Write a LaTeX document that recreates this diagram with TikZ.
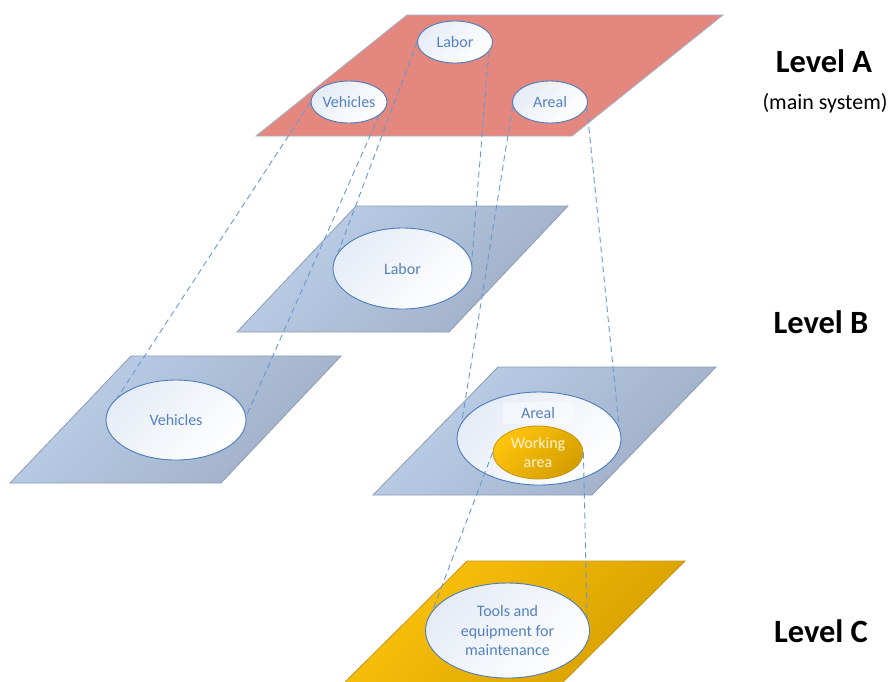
\documentclass[tikz,border=0pt]{standalone}
\usepackage{fontspec}
\setmainfont{Carlito}
\usetikzlibrary{shapes.geometric}

\definecolor{salmon}{RGB}{228,135,127}
\definecolor{salmonEdge}{RGB}{160,176,200}
\definecolor{blueLight}{RGB}{189,208,233}
\definecolor{blueDark}{RGB}{158,174,198}
\definecolor{blueEdge}{RGB}{140,156,182}
\definecolor{goldLight}{RGB}{255,196,12}
\definecolor{goldDark}{RGB}{212,158,0}
\definecolor{goldEdge}{RGB}{196,150,20}
\definecolor{ovalEdge}{RGB}{72,124,188}
\definecolor{ovalTop}{RGB}{230,236,246}
\definecolor{ovalText}{RGB}{84,130,192}
\definecolor{dashBlue}{RGB}{96,155,214}
\definecolor{cream}{RGB}{255,244,210}

\begin{document}
\begin{tikzpicture}[x=1pt,y=1pt,
  planeA/.style={fill=salmon, draw=salmonEdge, line width=0.8pt},
  planeB/.style={top color=blueLight, bottom color=blueDark, shading angle=45,
                 draw=blueEdge, line width=0.8pt},
  planeC/.style={top color=goldLight, bottom color=goldDark, shading angle=45,
                 draw=goldEdge, line width=0.8pt},
  oval/.style={ellipse, draw=ovalEdge, line width=0.9pt, top color=ovalTop,
               bottom color=white, shading angle=45, text=ovalText, inner sep=0pt,
               align=center, font=\fontsize{16}{19.5}\selectfont},
  goldoval/.style={ellipse, draw=goldEdge, line width=0.8pt, top color=goldLight,
               bottom color=goldDark, shading angle=45, text=cream, inner sep=0pt,
               align=center, font=\fontsize{16}{19.5}\selectfont},
  levelname/.style={font=\fontsize{32.5}{38}\selectfont\bfseries, text=black},
  levelnote/.style={font=\fontsize{22}{26}\selectfont, text=black},
  link/.style={draw=dashBlue, line width=0.9pt, dash pattern=on 6pt off 4pt}
]
\useasboundingbox (0,-681) rectangle (890,0);
\clip (0,-681) rectangle (890,0);

% planes
\path[planeA] (407,-15) -- (723,-15) -- (572,-136) -- (256,-136) -- cycle;
\path[planeB] (356,-206) -- (568,-206) -- (449,-332) -- (237,-332) -- cycle;
\path[planeB] (131,-356) -- (341,-356) -- (221,-483) -- (10,-483) -- cycle;
\path[planeB] (498,-367) -- (716,-367) -- (592,-495) -- (373,-495) -- cycle;
\path[planeC] (467,-561) -- (685,-561) -- (545,-700) -- (327,-700) -- cycle;

% level A elements
\node[oval, minimum width=75pt, minimum height=42pt] (labA) at (455,-42) {Labor};
\node[oval, minimum width=76pt, minimum height=42pt] (vehA) at (349,-102) {Vehicles};
\node[oval, minimum width=75pt, minimum height=42pt] (arA)  at (550,-102) {Areal};

% level B elements
\node[oval, minimum width=139pt, minimum height=81pt] (labB) at (402.5,-268.5) {Labor};
\node[oval, minimum width=140pt, minimum height=80pt] (vehB) at (176,-420) {Vehicles};
\node[oval, minimum width=164pt, minimum height=93pt] (arB)  at (539,-438.5) {};
\node[fill=white, fill opacity=0.45, text opacity=1, text=ovalText,
      font=\fontsize{16}{19.5}\selectfont, minimum width=70pt, minimum height=22pt,
      inner sep=0pt] (arBtext) at (538,-413) {Areal};
\node[goldoval, minimum width=90pt, minimum height=53pt] (work) at (538,-452.5) {Working\\area};

% level C element
\node[oval, minimum width=164pt, minimum height=95pt] (tools) at (507.5,-630.5)
  {Tools and\\equipment for\\maintenance};

% level captions
\node[levelname] (lvA) at (824,-61) {Level A};
\node[levelnote] (lvAnote) at (825,-103) {(main system)};
\node[levelname] (lvB) at (821,-322) {Level B};
\node[levelname] (lvC) at (821,-631) {Level C};

% projection lines between levels
\draw[link] (vehA.west) -- (vehB.159);
\draw[link] (vehA.336)  -- (vehB.3);
\draw[link] (labA.west) -- (labB.166);
\draw[link] (labA.344)  -- (labB.5);
\draw[link] (arA.186)   -- (arB.168);
\draw[link] (arA.352)   -- (arB.8);
\draw[link] (work.west) -- (tools.165);
\draw[link] (work.east) -- (tools.9);
\end{tikzpicture}
\end{document}
